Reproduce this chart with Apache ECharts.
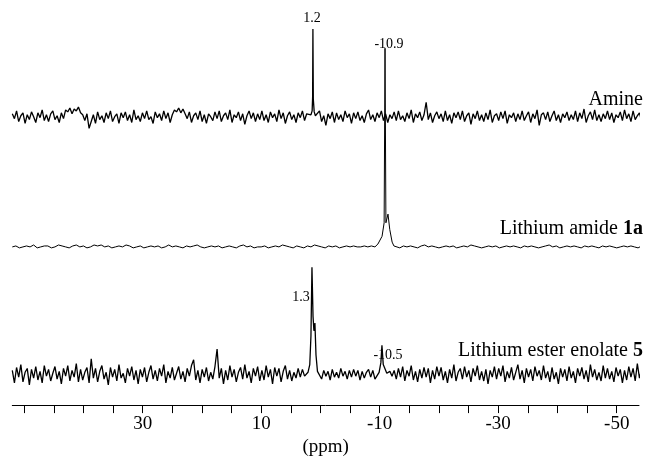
<!DOCTYPE html>
<html>
<head>
<meta charset="utf-8">
<script src="https://cdn.jsdelivr.net/npm/echarts@6/dist/echarts.min.js"></script>
<style>
  html, body { margin: 0; background: #fff; }
  #chart { width: 645px; height: 462px; }
</style>
</head>
<body>
<div id="chart"></div>
<script>
// acquisition grids of the read-off baseline noise (ppm)
const ppmStart = 52.0
const denseStep = -0.36
const amideStep = -0.6

const tickValues = [50, 45, 40, 35, 30, 25, 20, 15, 10, 5, 0, -5, -10, -15, -20, -25, -30, -35, -40, -45, -50]
const labelValues = [30, 10, -10, -30, -50]

// baseline noise, one value per grid step
const amineNoise = [
  3, -2, 6, -5, 1, 4, -7, 2, -3, 5, 0, -6, 4, -1, 7, -4, 2, -5, 3, 6,
  -3, 1, -6, 4, -2, 7, 5, 9, 3, 8, 6, 10, 4, 2, -4, 3, -12, -5, 2, -7,
  5, -3, 1, -6, 4, -2, 6, -5, 0, 3, -7, 4, -1, 5, -4, 2, -6, 7, -3, 1,
  -5, 4, -2, 6, -3, 0, -7, 5, -1, 3, -4, 6, -2, 4, -6, 2, 7, 5, 9, 4,
  8, 3, -2, 5, -6, 1, 4, -3, 6, -5, 2, -7, 3, 0, -4, 5, -2, 6, -5, 1,
  4, -3, 7, -6, 2, -1, 5, -4, 3, -8, 1, 6, -2, 4, -5, 3, -3, 6, -4, 2,
  -6, 5, -1, 3, -5, 7, -2, 4, -7, 1, 5, -3, 2, -6, 4, -1, 6, -4, 3, -2,
  5, -3, 2, -4, 6, -5, 1, -9, 3, -2, 5, -6, 4, -3, 2, -5, 6, -1, 3, -7,
  4, -2, 5, -4, 1, -6, 3, 7, -3, 2, -5, 4, -1, 6, -4, 3, -6, 2, -2, 5,
  -4, 6, -3, 1, -5, 4, -2, 7, -6, 3, -1, 5, -4, 2, 15, -3, 4, -6, 1, 5,
  -2, 3, -5, 6, -4, 2, -7, 4, -1, 5, -3, 6, -5, 1, 4, -8, 3, -2, 6, -4,
  2, -5, 4, -3, 7, -6, 1, 3, -4, 5, -2, 6, -7, 2, -1, 4, -5, 3, -3, 6,
  -4, 1, 5, -6, 3, -2, 7, -9, 2, 4, -3, 5, -5, 1, 6, -4, 2, -6, 3, -1,
  5, -4, 2, -3, 6, -5, 4, -2, 8, -6, 1, 5, -3, 7, -4, 2, -5, 3, -2, 6,
  -3, 4, -6, 2, -1, 5, -4, 7, -2, 3, -5, 6, -3, 1, 4, -5, 2, -4, 6, -2
]
const amideNoise = [
  0, 1, -1, 0, 1, 0, 2, -1, 0, 1, 1, -1, 0, 2, 1, 0, -1, 1, 2, 0,
  1, -1, 0, 2, 1, 2, 0, 1, -1, 0, 1, 0, 2, 1, -1, 0, 1, -1, 0, 1,
  0, 1, -1, 0, 2, 0, 1, 0, -1, 1, 0, 1, 2, 0, -1, 0, 1, 0, 1, -1,
  0, 1, 0, -1, 1, 2, 0, 1, -1, 0, 0, 1, -1, 0, 1, 0, 2, 1, 0, -1,
  1, 0, -1, 1, 0, 2, 1, 0, -1, 1, 0, 1, -1, 0, 1, 0, 1, 0, 0, 1,
  0, 1, 0, -1, 1, 0, 1, 2, 0, -1, 1, 0, 1, 0, -1, 1, 2, 0, 1, 0,
  -1, 0, 1, 0, 1, -1, 0, 1, 0, 2, 1, 0, -1, 0, 1, 0, 1, -1, 0, 1,
  0, 1, 0, -1, 1, 0, 1, 0, -1, 0, 1, 2, 0, 1, -1, 0, 1, 0, 1, 0,
  -1, 1, 0, 1, 0, -1, 1, 0, 1, 0, -1, 0, 1, 0, 1, 0, -1, 1
]
const enolateNoise = [
  4, -9, 7, -3, 10, -8, 2, 6, -11, 5, -4, 8, -6, 3, -9, 9, -2, 5, -7, 1,
  8, -5, 3, -10, 6, -2, 9, -7, 4, -3, 11, -8, 5, -6, 2, 7, -9, 16, -4, 6,
  -8, 3, 9, -5, 2, -11, 7, -3, 5, -7, 10, -4, 1, -9, 6, -2, 8, -6, 4, -10,
  5, -3, 7, -8, 2, 9, -5, 4, -7, 6, -2, 10, -9, 3, -4, 7, -6, 1, 8, -5,
  3, -8, 6, -2, 9, 15, -6, 4, -9, 5, -3, 7, -7, 2, -5, 8, 26, -4, 6, -10,
  4, -6, 9, -3, 5, -8, 2, 7, -5, 10, -4, 3, -9, 6, -2, 8, -7, 4, -6, 9,
  -3, 5, -10, 7, -2, 6, -8, 3, 9, -5, 4, -7, 2, -4, 6, -3, 5, -2, 4, -3,
  3, -4, 5, -3, 2, -5, 4, -2, 3, -6, 5, -3, 2, -4, 6, -2, 3, -5, 4, -3,
  5, -2, 4, -6, 3, -4, 2, 5, -3, 4, -5, 6, -2, 3, -4, 5, -6, 3, -2, 4,
  -5, 6, -3, 8, -7, 4, -2, 9, -6, 3, -8, 5, -4, 7, -3, 6, -9, 4, -5, 8,
  -2, 7, -6, 3, -9, 5, -4, 10, -7, 2, 6, -5, 8, -3, 4, -8, 6, -2, 9, -6,
  3, -7, 5, -10, 4, -3, 8, -5, 6, -2, 9, -8, 3, -4, 7, -6, 2, 10, -5, 4,
  -9, 6, -3, 5, -7, 8, -2, 4, -6, 9, -4, 3, -8, 7, -5, 2, -10, 6, -3, 5,
  -7, 8, -4, 3, -9, 6, -2, 7, -5, 4, -8, 10, -3, 5, -6, 2, -7, 9, -4, 6,
  -5, 3, -8, 7, -2, 5, -9, 4, -6, 8, -3, 6, -7, 11, -4, 5, -8, 3, -6, 7
]

// peak shapes [ppm, intensity]
const aminePeak = [[1.6, 2], [1.4, 6], [1.32, 20], [1.27, 91], [1.2, 18], [1.05, 5], [0.85, 1]]
const amidePeak = [[-9.7, 3], [-10.4, 11], [-10.75, 25], [-10.9, 206], [-11.05, 25], [-11.4, 34],
  [-11.7, 18], [-12.1, 5], [-12.4, 1]]
const enolatePeaks = [[2.1, 2], [1.8, 10], [1.6, 40], [1.43, 111], [1.25, 60], [1.1, 45], [0.93, 53],
  [0.75, 20], [0.5, 3], [-9.9, 2], [-10.2, 12], [-10.38, 30], [-10.6, 10], [-10.9, 8], [-11.2, 1]]

function buildTrace(noise, step, peaks, offset) {
  const pts = noise
    .map((v, i) => [ppmStart + i * step, v])
    .filter(p => !peaks.some(q => Math.abs(q[0] - p[0]) < 0.45))
  peaks.forEach(p => pts.push(p))
  pts.sort((a, b) => b[0] - a[0])
  return pts.map(p => [p[0], p[1] + offset])
}

const serif = 'Liberation Serif, Times New Roman, serif'

const chart = echarts.init(document.getElementById('chart'))

const lineSeries = (data, width) => ({
  type: 'line',
  data,
  symbol: 'none',
  lineStyle: { color: '#000', width },
  silent: true,
})

const peakLabel = (text, x, y) => ({
  type: 'text', x, y,
  style: { text, font: '14px ' + serif, align: 'center', verticalAlign: 'middle', fill: '#000' },
})

const traceName = (text, y) => ({
  type: 'text', x: 643, y,
  style: {
    text, align: 'right', verticalAlign: 'middle',
    rich: {
      n: { fontFamily: serif, fontSize: 20, fill: '#000' },
      b: { fontFamily: serif, fontSize: 20, fontWeight: 'bold', fill: '#000' },
    },
  },
})

const option = {
  animation: false,
  grid: { left: 12.3, right: 6, top: 0, bottom: 42 },
  xAxis: {
    type: 'value',
    inverse: true,
    min: -53.76,
    max: 52.0,
    name: '(ppm)',
    nameLocation: 'middle',
    nameGap: 17,
    nameTextStyle: { fontFamily: serif, fontSize: 19, color: '#000' },
    axisLine: { lineStyle: { color: '#000', width: 1 } },
    axisTick: { customValues: tickValues, length: 8, lineStyle: { color: '#000' } },
    axisLabel: {
      customValues: labelValues,
      margin: 9,
      fontFamily: serif,
      fontSize: 19,
      color: '#000',
    },
    splitLine: { show: false },
  },
  yAxis: { type: 'value', min: 0, max: 420, show: false },
  series: [
    lineSeries(buildTrace(amineNoise, denseStep, aminePeak, 299), 1.3),
    lineSeries(buildTrace(amideNoise, amideStep, amidePeak, 164), 1),
    lineSeries(buildTrace(enolateNoise, denseStep, enolatePeaks, 32), 1.3),
  ],
  graphic: [
    peakLabel('1.2', 312, 18),
    peakLabel('-10.9', 389, 44),
    peakLabel('1.3', 301, 297),
    peakLabel('-10.5', 388, 355),
    traceName('{n|Amine}', 100),
    traceName('{n|Lithium amide }{b|1a}', 229),
    traceName('{n|Lithium ester enolate }{b|5}', 351),
  ],
}

chart.setOption(option)
</script>
</body>
</html>
